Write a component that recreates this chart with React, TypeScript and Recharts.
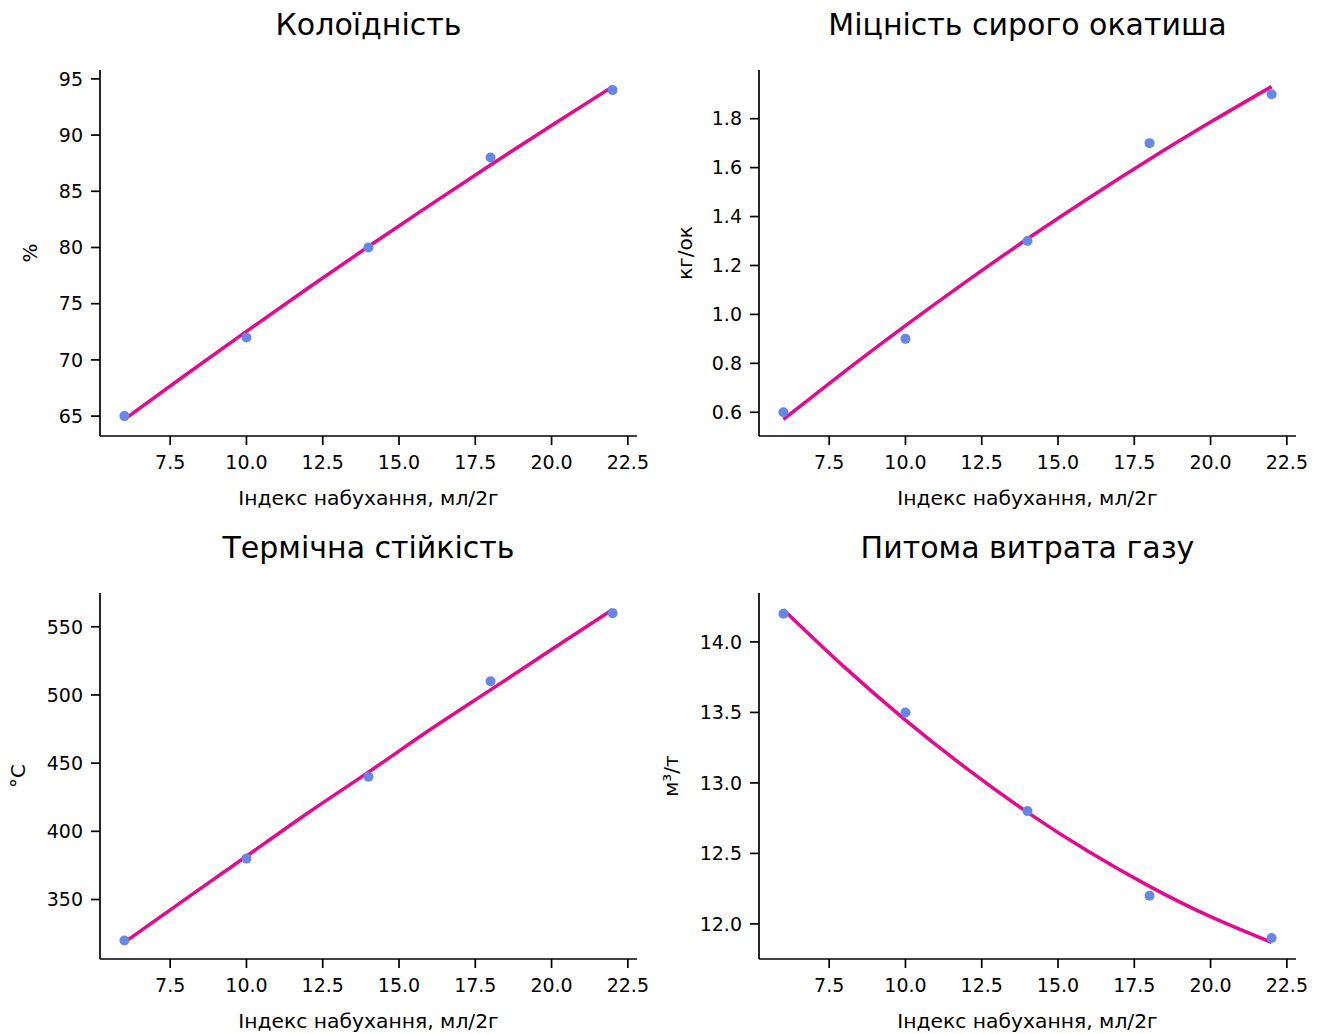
import { ComposedChart, Scatter, Line, XAxis, YAxis } from 'recharts';

// measured points
const xValues = [6, 10, 14, 18, 22];
const colloid = [65, 72, 80, 88, 94];
const strength = [0.6, 0.9, 1.3, 1.7, 1.9];
const thermal = [320, 380, 440, 510, 560];
const gas = [14.2, 13.5, 12.8, 12.2, 11.9];

// fitted curves
const fitX = [6, 8, 10, 12, 14, 16, 18, 20, 22];
const colloidFit = [64.71, 68.66, 72.54, 76.35, 80.09, 83.75, 87.34, 90.86, 94.31];
const strengthFit = [0.571, 0.766, 0.954, 1.135, 1.309, 1.475, 1.634, 1.786, 1.931];
const thermalFit = [318.57, 350.32, 381.71, 413.29, 443.43, 474.29, 503.71, 533.32, 562.57];
const gasFit = [14.229, 13.821, 13.446, 13.103, 12.791, 12.513, 12.266, 12.051, 11.869];

const xTicks = [7.5, 10, 12.5, 15, 17.5, 20, 22.5];
const colloidTicks = [65, 70, 75, 80, 85, 90, 95];
const strengthTicks = [0.6, 0.8, 1.0, 1.2, 1.4, 1.6, 1.8];
const thermalTicks = [350, 400, 450, 500, 550];
const gasTicks = [12.0, 12.5, 13.0, 13.5, 14.0];

const titles = ['Колоїдність', 'Міцність сирого окатиша', 'Термічна стійкість', 'Питома витрата газу'];
const yLabels = ['%', 'кг/ок', '°C', 'м³/т'];
const xLabel = 'Індекс набухання, мл/2г';

const FONT = 'DejaVu Sans';
const DOT = '#6787e7';
const CURVE = '#e5098f';

const toPts = (xs: number[], ys: number[]) => xs.map((x, i) => ({ x, y: ys[i] }));

type PanelProps = {
  left: number;
  top: number;
  height: number;
  axisH: number;
  labelOffset: number;
  yLabel: string;
  yLabelOffset: number;
  points: { x: number; y: number }[];
  fit: { x: number; y: number }[];
  domain: [number, number];
  yTicks: number[];
  fmt: (v: number) => string;
};

const Panel = (p: PanelProps) => (
  <div style={{ position: 'absolute', left: p.left, top: p.top }}>
    <ComposedChart width={663} height={p.height} margin={{ top: 70, right: 26, bottom: 0, left: 0 }}>
      <XAxis
        dataKey="x"
        type="number"
        domain={[5.2, 22.8]}
        allowDataOverflow
        ticks={xTicks}
        tickFormatter={(v: number) => v.toFixed(1)}
        height={p.axisH}
        tickSize={9}
        tickMargin={11}
        stroke="#000"
        strokeWidth={1.7}
        tick={{ fontSize: 19, fill: '#000', fontFamily: FONT }}
        label={{ value: xLabel, position: 'insideBottom', offset: p.labelOffset, fill: '#000', fontSize: 20.3, fontFamily: FONT }}
      />
      <YAxis
        dataKey="y"
        type="number"
        domain={p.domain}
        allowDataOverflow
        ticks={p.yTicks}
        tickFormatter={p.fmt}
        width={100}
        tickSize={9}
        tickMargin={8}
        stroke="#000"
        strokeWidth={1.7}
        tick={{ fontSize: 19, fill: '#000', fontFamily: FONT }}
        label={{
          value: p.yLabel,
          angle: -90,
          position: 'insideLeft',
          offset: p.yLabelOffset,
          fill: '#000',
          fontSize: 20,
          fontFamily: FONT,
          style: { textAnchor: 'middle' },
        }}
      />
      <Scatter
        data={p.points}
        dataKey="y"
        isAnimationActive={false}
        shape={(s: any) => <circle cx={s.cx} cy={s.cy} r={5} fill={DOT} />}
      />
      <Line
        data={p.fit}
        dataKey="y"
        type="natural"
        stroke={CURVE}
        strokeWidth={3.5}
        dot={false}
        activeDot={false}
        isAnimationActive={false}
      />
    </ComposedChart>
  </div>
);

export default function App() {
  return (
    <div
      style={{
        position: 'absolute',
        left: 0,
        top: 0,
        width: 1327,
        height: 1034,
        overflow: 'hidden',
        background: '#fff',
        fontFamily: FONT,
      }}
    >
      <Panel left={0} top={0} height={520} axisH={84} labelOffset={15} yLabel={yLabels[0]} yLabelOffset={30}
        points={toPts(xValues, colloid)} fit={toPts(fitX, colloidFit)} domain={[63.23, 95.79]}
        yTicks={colloidTicks} fmt={(v) => String(v)} />
      <Panel left={659} top={0} height={520} axisH={84} labelOffset={15} yLabel={yLabels[1]} yLabelOffset={26}
        points={toPts(xValues, strength)} fit={toPts(fitX, strengthFit)} domain={[0.503, 1.999]}
        yTicks={strengthTicks} fmt={(v) => v.toFixed(1)} />
      <Panel left={0} top={523} height={511} axisH={75} labelOffset={6} yLabel={yLabels[2]} yLabelOffset={18}
        points={toPts(xValues, thermal)} fit={toPts(fitX, thermalFit)} domain={[306.37, 574.77]}
        yTicks={thermalTicks} fmt={(v) => String(v)} />
      <Panel left={659} top={523} height={511} axisH={75} labelOffset={6} yLabel={yLabels[3]} yLabelOffset={12}
        points={toPts(xValues, gas)} fit={toPts(fitX, gasFit)} domain={[11.751, 14.347]}
        yTicks={gasTicks} fmt={(v) => v.toFixed(1)} />
      <svg width={1327} height={1034} style={{ position: 'absolute', left: 0, top: 0, pointerEvents: 'none' }}>
        <text x={368.5} y={35} textAnchor="middle" fontSize={30} fontFamily={FONT} fill="#000">{titles[0]}</text>
        <text x={1027.5} y={35} textAnchor="middle" fontSize={30} fontFamily={FONT} fill="#000">{titles[1]}</text>
        <text x={368.5} y={558} textAnchor="middle" fontSize={30} fontFamily={FONT} fill="#000">{titles[2]}</text>
        <text x={1027.5} y={558} textAnchor="middle" fontSize={30} fontFamily={FONT} fill="#000">{titles[3]}</text>
      </svg>
    </div>
  );
}
